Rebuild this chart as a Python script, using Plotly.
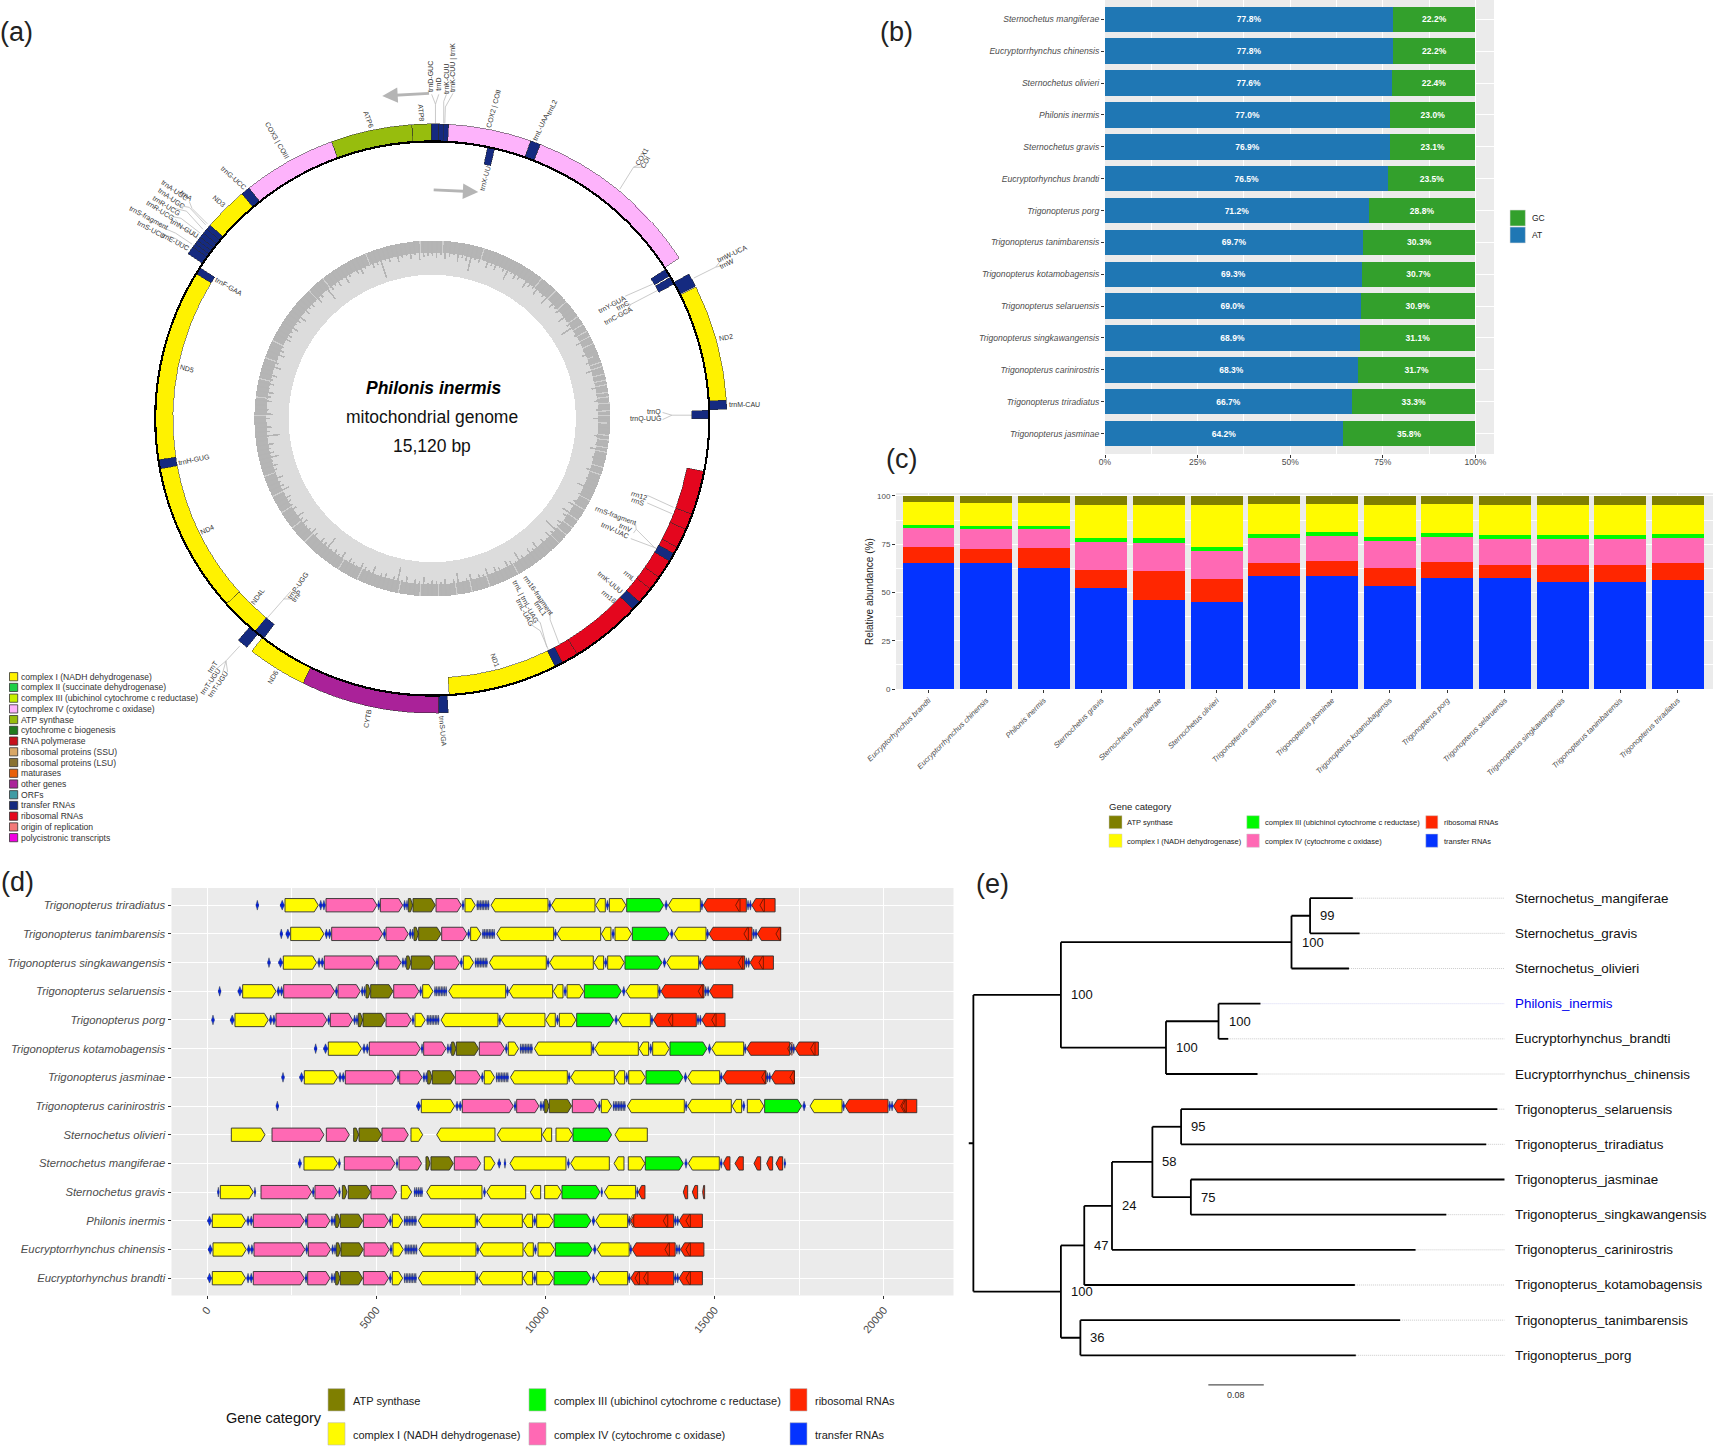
import plotly.graph_objects as go

W, H = 1713, 1447
FONT = "Liberation Sans"
GREY = "#4d4d4d"
BG = "#ebebeb"

def dom_x(a, b):
    return [a / W, b / W]

def dom_y(top, bot):
    return [1 - bot / H, 1 - top / H]

# ---------- panel (a) data ----------
# (name, start angle, end angle, ring, category)
MAP_GENES = [
    ("trnD", 359.8, 1.3, "o", "trna"), ("trnK1", 1.3, 2.2, "o", "trna"), ("trnK2", 2.2, 3.2, "o", "trna"),
    ("ATP8", 356.0, 359.8, "o", "atp"), ("ATP6", 340.0, 356.0, "o", "atp"),
    ("COX3", 321.5, 340.0, "o", "c4"), ("trnG", 319.7, 321.5, "o", "trna"), ("ND3", 311.0, 319.7, "o", "c1"),
    ("t1", 310.0, 311.0, "o", "trna"), ("t2", 309.0, 310.0, "o", "trna"), ("t3", 308.0, 309.0, "o", "trna"),
    ("t4", 307.2, 308.0, "o", "trna"), ("t5", 306.4, 307.2, "o", "trna"), ("t6", 305.6, 306.4, "o", "trna"),
    ("t7", 304.0, 305.6, "o", "trna"),
    ("trnF", 301.5, 303.0, "i", "trna"), ("ND5", 261.4, 301.5, "i", "c1"), ("trnH", 259.5, 261.4, "i", "trna"),
    ("ND4", 228.0, 259.5, "i", "c1"), ("ND4L", 219.9, 228.0, "i", "c1"),
    ("trnT", 219.0, 221.2, "o", "trna"), ("trnP", 217.5, 219.8, "i", "trna"),
    ("ND6", 206.0, 217.8, "o", "c1"), ("CYTB", 178.7, 206.0, "o", "other"), ("trnS", 176.9, 178.7, "o", "trna"),
    ("ND1", 153.6, 176.5, "i", "c1"), ("trnL", 151.9, 153.6, "i", "trna"),
    ("rrn16a", 148.4, 151.9, "i", "rrna"), ("rrn16b", 133.5, 148.4, "i", "rrna"), ("trnKu", 131.5, 133.5, "i", "trna"),
    ("rrnLa", 128.0, 131.5, "i", "rrna"), ("rrnLb", 125.0, 128.0, "i", "rrna"), ("rrnLc", 121.0, 125.0, "i", "rrna"),
    ("trnV", 119.2, 121.0, "i", "trna"), ("rrnSa", 117.7, 119.2, "i", "rrna"), ("rrnSb", 113.6, 117.7, "i", "rrna"),
    ("rrnSc", 110.2, 113.6, "i", "rrna"), ("rrnSd", 101.0, 110.2, "i", "rrna"),
    ("trnQ", 88.3, 90.0, "i", "trna"), ("trnM", 86.4, 88.2, "o", "trna"), ("ND2", 63.5, 86.4, "o", "c1"),
    ("trnW", 60.6, 63.3, "o", "trna"), ("trnC", 59.3, 60.9, "i", "trna"), ("trnY", 57.4, 59.0, "i", "trna"),
    ("COX1", 21.5, 57.0, "o", "c4"), ("trnL2", 19.5, 21.5, "o", "trna"), ("COX2", 3.2, 19.5, "o", "c4"),
    ("trnX", 11.5, 13.0, "i", "trna"),
]
MAP_COLORS = {"c1": "#fff200", "c4": "#fdb3fb", "atp": "#97bd0d", "other": "#aa2299", "trna": "#152a80", "rrna": "#e4061e"}
R_CIRCLE, R_OUT, R_IN = 277, 294.6, 259.4

# GC ring: length of the dark streaks, one per 1.5 degrees, read around the ring
GC_BAR_LEN = [
    15,17,14,18,16,13,19,15,17,26,14,16,12,18,15,17,13,16,22,14,17,15,12,19,16,14,18,13,15,20,12,17,14,16,11,19,13,15,24,12,
    14,10,17,8,13,16,6,15,11,18,4,13,9,16,7,12,15,5,14,10,17,3,12,8,15,6,13,18,9,14,5,11,16,7,13,10,19,8,14,12,
    15,18,13,20,16,12,17,14,25,15,18,13,16,11,19,14,17,12,15,21,13,16,18,12,15,17,13,19,14,16,11,18,15,13,22,16,12,17,14,15,
    16,13,19,15,17,12,18,14,26,16,13,17,15,12,20,14,16,18,13,15,17,12,19,14,16,13,24,15,17,12,16,18,14,13,17,15,19,12,16,14,
    15,17,13,19,16,14,18,12,15,17,13,20,16,14,18,12,25,15,17,13,16,19,14,12,17,15,18,13,16,14,17,12,19,15,13,18,16,14,12,17,
    16,14,18,13,15,19,12,17,14,16,13,18,15,12,24,16,14,17,13,19,15,12,16,18,14,13,17,15,30,14,16,12,18,15,13,17,14,19,16,15,
]
GC_BAR_WIDTH = 0.55
# Angles of the pale streaks that break up the dark band (mostly on the right of the ring)
GC_GAPS = [3.5, 9, 17, 24, 31.5, 38, 44, 49, 52.5, 55, 58, 60.5, 62.5, 65, 67.5, 69, 71.5, 73, 75.5, 77.5, 79, 81.5, 83, 85, 87.5, 89,
           91.5, 93, 95.5, 97, 99.5, 101, 103.5, 106, 108.5, 111, 114, 117.5, 121, 125, 128, 131, 134.5, 138, 142.5, 147, 151, 156,
           161, 167, 172, 178, 184, 191, 198, 205, 212, 219, 226, 232, 238, 244, 251, 258, 264, 271, 277, 283, 290, 296, 303, 309,
           316, 322, 330, 338, 345, 351, 356]
GC_OUTER, GC_BAND_INNER, GC_INNER = 178, 166, 143.7

MAP_LABELS = [
    ("trnD-GUC", 786, 140, -90), ("trnD", 800, 153, -90), ("trnK-CUU", 814, 143, -90), ("trnK-CUU | trnK", 827, 123, -90),
    ("ATP8", 767, 206, 85), ("ATP6", 672, 218, 70), ("COX3 | COIII", 505, 257, 60), ("trnG-UCC", 425, 324, 42), ("ND3", 400, 367, 40),
    ("trnA", 340, 356, 35), ("trnA-UGC", 319, 348, 35), ("trnA-UGC", 313, 362, 35), ("trnR-UCG", 303, 375, 32), ("trnR-UCG", 293, 383, 32),
    ("trnN-GUU", 337, 416, 30), ("trnS-fragment", 270, 398, 28), ("trnS-UCU", 276, 419, 28), ("trnE-UUC", 319, 441, 28),
    ("trnF-GAA", 417, 522, 30), ("ND5", 341, 671, 15), ("trnH-GUG", 354, 837, -12), ("ND4", 378, 965, -25), ("ND4L", 470, 1088, -55),
    ("trnP-UGG", 543, 1067, -55), ("trnP", 540, 1087, -55), ("trnT", 388, 1215, -55), ("trnT-UGU", 383, 1242, -55), ("trnT-UGU", 397, 1248, -55),
    ("ND6", 497, 1235, -60), ("CYTB", 670, 1310, -80), ("trnS-UGA", 808, 1333, 85), ("ND1", 903, 1204, 70),
    ("trnL | trnL-UAG", 958, 1097, 62), ("trnL-UAG", 957, 1117, 62), ("rrn16-fragment", 980, 1085, 55), ("trnL1", 985, 1110, 55),
    ("rrn16", 1110, 1087, 40), ("trnK-UUU", 1113, 1062, 40), ("rrnL", 1147, 1050, 40),
    ("trnV-UAC", 1122, 968, 25), ("trnV", 1140, 962, 25), ("rrnS-fragment", 1122, 940, 20), ("rrnS", 1163, 915, 18), ("rrn12", 1165, 903, 18),
    ("trnQ", 1193, 752, 0), ("trnQ-UUG", 1177, 764, 0), ("trnM-CAU", 1358, 737, 0), ("ND2", 1323, 615, -10),
    ("trnW-UCA", 1335, 462, -25), ("trnW", 1325, 480, -25), ("trnY-GUA", 1115, 555, -28), ("trnC", 1135, 557, -28), ("trnC-GCA", 1128, 576, -28),
    ("COX1", 1170, 285, -60), ("COI", 1176, 296, -60), ("trnL-UAA", 985, 232, -65), ("trnL2", 1006, 196, -65),
    ("COX2 | COII", 900, 198, -75), ("trnX-UU", 884, 325, -75),
]
MAP_LEADERS = [
    [(794,225),(794,190),(787,172)], [(794,190),(800,172)], [(809,225),(809,185),(814,172)], [(811,225),(812,195),(826,170)],
    [(1130,345),(1155,305),(1165,300)], [(1155,305),(1172,305)], [(1265,507),(1305,487),(1318,470)], [(1305,487),(1315,485)],
    [(1190,518),(1140,540)], [(1198,530),(1150,555),(1140,553)], [(1150,555),(1140,572)],
    [(1262,757),(1225,757),(1208,752)], [(1225,757),(1208,765)], [(1228,925),(1180,903)], [(1226,937),(1180,917)],
    [(1195,1000),(1160,965),(1158,950)], [(1160,965),(1155,972)], [(1198,1000),(1150,982)],
    [(480,1135),(517,1092),(530,1078)], [(517,1092),(535,1092)], [(437,1178),(412,1205),(392,1222)], [(412,1205),(405,1230)], [(412,1205),(415,1225)],
    [(1000,1185),(985,1150),(970,1140)], [(997,1180),(985,1135),(978,1130)], [(1020,1175),(1003,1130),(1003,1115)],
    [(378,408),(350,380),(345,367)], [(375,410),(345,378),(327,375)], [(370,418),(340,385),(310,378)], [(365,425),(330,398),(315,395)],
    [(360,435),(325,408),(320,400)], [(350,445),(320,425),(290,412)], [(345,452),(320,435),(300,428)],
]
LEGEND_A = [
    ("complex I (NADH dehydrogenase)", "#fff200"), ("complex II (succinate dehydrogenase)", "#1ecf47"),
    ("complex III (ubichinol cytochrome c reductase)", "#c6f000"), ("complex IV (cytochrome c oxidase)", "#fdb3fb"),
    ("ATP synthase", "#97bd0d"), ("cytochrome c biogenesis", "#217a1f"), ("RNA polymerase", "#c6101b"),
    ("ribosomal proteins (SSU)", "#d9a766"), ("ribosomal proteins (LSU)", "#8a7232"), ("maturases", "#e8600a"),
    ("other genes", "#aa2299"), ("ORFs", "#3f9ba4"), ("transfer RNAs", "#152a80"), ("ribosomal RNAs", "#e4061e"),
    ("origin of replication", "#f27979"), ("polycistronic transcripts", "#f000e0"),
]

# ---------- panel (b) data ----------
B_SPECIES = ["Sternochetus mangiferae", "Eucryptorrhynchus chinensis", "Sternochetus olivieri", "Philonis inermis",
             "Sternochetus gravis", "Eucryptorhynchus brandti", "Trigonopterus porg", "Trigonopterus tanimbarensis",
             "Trigonopterus kotamobagensis", "Trigonopterus selaruensis", "Trigonopterus singkawangensis",
             "Trigonopterus carinirostris", "Trigonopterus triradiatus", "Trigonopterus jasminae"]
B_AT = [77.8, 77.8, 77.6, 77.0, 76.9, 76.5, 71.2, 69.7, 69.3, 69.0, 68.9, 68.3, 66.7, 64.2]
B_GC = [22.2, 22.2, 22.4, 23.0, 23.1, 23.5, 28.8, 30.3, 30.7, 30.9, 31.1, 31.7, 33.3, 35.8]
B_TICKS = [0, 25, 50, 75, 100]
B_TICK_TEXT = ["0%", "25%", "50%", "75%", "100%"]

# ---------- panel (c) data ----------
C_SPECIES = ["Eucryptorhynchus brandti", "Eucryptorrhynchus chinensis", "Philonis inermis", "Sternochetus gravis",
             "Sternochetus mangiferae", "Sternochetus olivieri", "Trigonopterus carinirostris", "Trigonopterus jasminae",
             "Trigonopterus kotamobagensis", "Trigonopterus porg", "Trigonopterus selaruensis",
             "Trigonopterus singkawangensis", "Trigonopterus tanimbarensis", "Trigonopterus triradiatus"]
C_TRNA = [65.1, 65.5, 62.9, 52.5, 46.3, 45.2, 58.7, 58.4, 53.5, 57.3, 57.7, 55.6, 55.6, 56.5]
C_RRNA = [8.3, 6.9, 10.0, 9.3, 14.7, 11.8, 6.4, 8.1, 9.4, 8.5, 6.7, 8.8, 8.8, 8.6]
C_C4 = [9.8, 10.3, 10.0, 14.5, 14.6, 14.3, 13.3, 12.6, 14.0, 12.8, 13.3, 13.3, 13.3, 13.3]
C_C3 = [1.8, 1.8, 1.7, 2.1, 2.4, 2.3, 2.1, 2.2, 2.0, 2.2, 2.3, 2.3, 2.3, 2.1]
C_C1 = [11.7, 12.0, 11.9, 16.9, 17.2, 21.7, 15.2, 14.7, 16.4, 14.9, 15.5, 15.5, 15.5, 15.0]
C_ATP = [3.3, 3.5, 3.5, 4.7, 4.8, 4.7, 4.3, 4.0, 4.7, 4.3, 4.5, 4.5, 4.5, 4.5]
CAT_COLORS = {"atp": "#7f7f00", "c1": "#fffb00", "c3": "#00f900", "c4": "#ff69b4", "rrna": "#ff2600", "trna": "#0433ff"}
LEGEND_GENE = [("ATP synthase", "atp"), ("complex I (NADH dehydrogenase)", "c1"),
               ("complex III (ubichinol cytochrome c reductase)", "c3"), ("complex IV (cytochrome c oxidase)", "c4"),
               ("ribosomal RNAs", "rrna"), ("transfer RNAs", "trna")]

# ---------- panel (d) data ----------
D_ROWS = ["Trigonopterus triradiatus", "Trigonopterus tanimbarensis", "Trigonopterus singkawangensis", "Trigonopterus selaruensis",
          "Trigonopterus porg", "Trigonopterus kotamobagensis", "Trigonopterus jasminae", "Trigonopterus carinirostris",
          "Sternochetus olivieri", "Sternochetus mangiferae", "Sternochetus gravis", "Philonis inermis",
          "Eucryptorrhynchus chinensis", "Eucryptorhynchus brandti"]
# Shared arrangement as read on the Philonis inermis row: start, end, direction, category
ARR_GENES = [
    (157, 1142, 1, "c1"), (1369, 2876, 1, "c4"), (2975, 3635, 1, "c4"), (3802, 3930, 1, "atp"), (3940, 4600, 1, "atp"),
    (4620, 5368, 1, "c4"), (5476, 5782, 1, "c1"), (6245, 7929, -1, "c1"), (8028, 9318, -1, "c1"), (9338, 9623, -1, "c1"),
    (9742, 10234, 1, "c1"), (10254, 11347, 1, "c3"), (11485, 12431, -1, "c1"), (12519, 13790, -1, "rrna"), (13950, 14640, -1, "rrna"),
]
ARR_TRNA = [(15, 135), (1172, 1255), (1265, 1350), (2895, 2960), (3660, 3725), (3735, 3790), (5385, 5450),
            (5821, 5861), (5868, 5908), (5915, 5955), (5962, 6002), (6009, 6049), (6056, 6096), (6103, 6143), (6150, 6190),
            (7950, 8015), (9650, 9720), (11380, 11460), (12445, 12510), (13810, 13870), (13880, 13940)]
# Row shifts: early genes, ND6-CYTB, ND1 onward
ROW_SHIFT = {
    "Trigonopterus triradiatus": (2148, 2148, 2148), "Trigonopterus tanimbarensis": (2315, 2315, 2315),
    "Trigonopterus singkawangensis": (2098, 2098, 2098), "Trigonopterus selaruensis": (897, 897, 897),
    "Trigonopterus porg": (670, 670, 670), "Trigonopterus kotamobagensis": (3428, 3428, 3428),
    "Trigonopterus jasminae": (2719, 2719, 2719), "Trigonopterus carinirostris": (6176, 6225, 6335),
    "Philonis inermis": (0, 0, 0), "Eucryptorrhynchus chinensis": (20, 40, 45), "Eucryptorhynchus brandti": (0, 0, 0),
}
LEAD_TRNA = {"Trigonopterus triradiatus": 1487, "Trigonopterus tanimbarensis": 2196, "Trigonopterus singkawangensis": 1832,
             "Trigonopterus selaruensis": 374, "Trigonopterus porg": 177, "Trigonopterus kotamobagensis": 3211,
             "Trigonopterus jasminae": 2246, "Trigonopterus carinirostris": 2078}
OLIVIERI_GENES = [(719, 1714, 1, "c1"), (1921, 3457, 1, "c4"), (3526, 4206, 1, "c4"), (4334, 4482, 1, "atp"), (4492, 5161, 1, "atp"),
                  (5171, 5949, 1, "c4"), (6028, 6373, 1, "c1"), (6787, 8510, -1, "c1"), (8579, 9889, -1, "c1"), (9909, 10185, -1, "c1"),
                  (10313, 10806, 1, "c1"), (10816, 11958, 1, "c3"), (12056, 13012, -1, "c1")]
MANGIFERAE_GENES = [(2866, 3861, 1, "c1"), (4058, 5555, 1, "c4"), (5674, 6343, 1, "c4"), (6471, 6590, 1, "atp"), (6619, 7279, 1, "atp"),
                    (7309, 8087, 1, "c4"), (8195, 8510, 1, "c1"), (8954, 10608, -1, "c1"), (10746, 11889, -1, "c1"), (12027, 12322, -1, "c1"),
                    (12450, 12943, 1, "c1"), (12953, 14075, 1, "c3"), (14223, 15139, -1, "c1"), (15258, 15454, -1, "rrna"),
                    (15602, 15849, -1, "rrna"), (16164, 16361, -1, "rrna"), (16538, 16715, -1, "rrna"), (16814, 17011, -1, "rrna")]
MANGIFERAE_TRNA = [(2695, 2790), (3880, 3940), (5590, 5640), (8590, 8680), (8780, 8830), (10650, 10710), (14120, 14190), (15165, 15225), (17050, 17100)]
GRAVIS_GENES = [(394, 1369, 1, "c1"), (1596, 3093, 1, "c4"), (3191, 3861, 1, "c4"), (4000, 4140, 1, "atp"), (4176, 4836, 1, "atp"),
                (4846, 5604, 1, "c4"), (5742, 6048, 1, "c1"), (6491, 8126, -1, "c1"), (8264, 9417, -1, "c1"), (9554, 9860, -1, "c1"),
                (9978, 10480, 1, "c1"), (10490, 11613, 1, "c3"), (11741, 12667, -1, "c1"), (12746, 12943, -1, "rrna"),
                (14075, 14204, -1, "rrna"), (14341, 14499, -1, "rrna"), (14647, 14706, -1, "rrna")]
GRAVIS_TRNA = [(310, 360), (1395, 1440), (3110, 3170), (3885, 3940), (6117, 6165), (6170, 6218), (6223, 6271), (6276, 6324), (6329, 6373),
               (8170, 8230), (11640, 11690), (12695, 12740)]
RRNA_MARKS = {
    "Trigonopterus triradiatus": [15622, 16341], "Trigonopterus tanimbarensis": [15868, 16814],
    "Trigonopterus singkawangensis": [15701, 16311], "Trigonopterus selaruensis": [14519],
    "Trigonopterus porg": [13632, 14913], "Trigonopterus kotamobagensis": [17159, 17838],
    "Trigonopterus jasminae": [16390, 17228], "Trigonopterus carinirostris": [20498, 20540],
    "Philonis inermis": [12480, 13485, 14154], "Eucryptorrhynchus chinensis": [13534, 14154],
    "Eucryptorhynchus brandti": [12650, 12900, 14154],
}
D_X_TICKS = [0, 5000, 10000, 15000, 20000]
D_X_TEXT = ["0", "5000", "10000", "15000", "20000"]

# ---------- panel (e) data ----------
TREE_TIPS = ["Sternochetus_mangiferae", "Sternochetus_gravis", "Sternochetus_olivieri", "Philonis_inermis",
             "Eucryptorhynchus_brandti", "Eucryptorrhynchus_chinensis", "Trigonopterus_selaruensis", "Trigonopterus_triradiatus",
             "Trigonopterus_jasminae", "Trigonopterus_singkawangensis", "Trigonopterus_carinirostris",
             "Trigonopterus_kotamobagensis", "Trigonopterus_tanimbarensis", "Trigonopterus_porg"]
TIP_DEPTH = [0.5474, 0.5573, 0.5419, 0.4142, 0.3677, 0.4100, 0.7560, 0.7399, 0.7666, 0.6823, 0.6380, 0.5504, 0.6157, 0.5518]
NODE_DEPTH = {"root": 0.0, "A": 0.1263, "B": 0.4590, "C": 0.4858, "D": 0.2779, "E": 0.3537, "F": 0.1263, "G": 0.1600,
              "H": 0.2000, "I": 0.2583, "J": 0.2997, "K": 0.3138, "L": 0.1544}
NODE_KIDS = {"root": ["A", "F"], "A": ["B", "D"], "B": ["C", 2], "C": [0, 1], "D": ["E", 5], "E": [3, 4], "F": ["G", "L"],
             "G": ["H", 11], "H": ["I", 10], "I": ["J", "K"], "J": [6, 7], "K": [8, 9], "L": [12, 13]}
NODE_SUPPORT = {"C": 99, "B": 100, "A": 100, "E": 100, "D": 100, "J": 95, "I": 58, "K": 75, "H": 24, "G": 47, "F": 100, "L": 36}
SCALE_LEN = 0.08

# ---------- figure ----------
fig = go.Figure()
shapes, annos = [], []

def txt(text, x, y, size, color="#222222", xref="paper", yref="paper", xanchor="center", angle=0, **kw):
    annos.append(dict(text=text, x=x, y=y, xref=xref, yref=yref, showarrow=False, xanchor=xanchor, yanchor="middle",
                      textangle=angle, borderpad=0, font=dict(size=size, color=color, family=FONT), **kw))

def ptxt(text, x, y, size, **kw):
    txt(text, x / W, 1 - y / H, size, **kw)

def swatch(x0, x1, y0, y1, color, line="#444444", lw=0.6):
    shapes.append(dict(type="rect", xref="paper", yref="paper", x0=x0 / W, x1=x1 / W, y0=1 - y1 / H, y1=1 - y0 / H,
                       fillcolor=color, line=dict(color=line, width=lw), layer="above"))

def panel_bg(x0, x1, y0, y1):
    shapes.append(dict(type="rect", xref="paper", yref="paper", x0=x0 / W, x1=x1 / W, y0=1 - y1 / H, y1=1 - y0 / H,
                       fillcolor=BG, line=dict(width=0), layer="below"))

# Panel (a): ring drawn on a polar subplot
CX, CY, RMAX = 432.3, 418.5, 300
polar_dom = dict(x=dom_x(CX - RMAX, CX + RMAX), y=dom_y(CY - RMAX, CY + RMAX))

def ring(theta, width, base, r, color, line=None, lw=0):
    fig.add_trace(go.Barpolar(theta=theta, width=width, base=base, r=r, marker=dict(color=color, line=dict(color=line or color, width=lw)),
                              subplot="polar", hoverinfo="skip", showlegend=False))

ring([90, 270], [180, 180], [GC_INNER] * 2, [GC_OUTER - GC_INNER] * 2, "#dcdcdc")
ring([90, 270], [180, 180], [GC_BAND_INNER] * 2, [GC_OUTER - GC_BAND_INNER] * 2, "#b5b5b5")
ring(GC_GAPS, [0.4] * len(GC_GAPS), [GC_BAND_INNER] * len(GC_GAPS), [GC_OUTER - GC_BAND_INNER] * len(GC_GAPS), "#cfcfcf")
gc_theta = [i * 1.5 for i in range(len(GC_BAR_LEN))]
ring(gc_theta, [GC_BAR_WIDTH] * len(gc_theta), [GC_OUTER - v for v in GC_BAR_LEN], GC_BAR_LEN, "#b4b4b4")
for g_name, a0, a1, side, cat in MAP_GENES:
    span = (a1 - a0) % 360
    base = R_CIRCLE if side == "o" else R_IN
    length = (R_OUT - R_CIRCLE) if side == "o" else (R_CIRCLE - R_IN)
    ring([(a0 + span / 2) % 360], [span], [base], [length], MAP_COLORS[cat], "#2b2b2b", 0.5)
ring([90, 270], [180, 180], [R_CIRCLE - 1] * 2, [2.2] * 2, "#000000")

# overlay for the map's leaders and labels, in the same coordinates as the map panel
lx, ly = [], []
for path in MAP_LEADERS:
    for px_, py_ in path:
        lx.append(px_)
        ly.append(py_)
    lx.append(None)
    ly.append(None)
fig.add_trace(go.Scatter(x=lx, y=ly, mode="lines", line=dict(color="#bdbdbd", width=0.8), xaxis="x", yaxis="y",
                         hoverinfo="skip", showlegend=False))
for t, x, y, ang in MAP_LABELS:
    txt(t, x, y, 7, color="#333333", xref="x", yref="y", angle=ang)
txt("<b><i>Philonis inermis</i></b>", 790, 708, 17.5, color="#000000", xref="x", yref="y")
txt("mitochondrial genome", 788, 760, 17.5, color="#111111", xref="x", yref="y")
txt("15,120 bp", 788, 813, 17.5, color="#111111", xref="x", yref="y")
for tip_x, tip_y, tail_x, tail_y in [(697, 175, 785, 170), (872, 350, 788, 346)]:
    annos.append(dict(x=tip_x, y=tip_y, ax=tail_x, ay=tail_y, xref="x", yref="y", axref="x", ayref="y", text="", showarrow=True,
                      arrowhead=2, arrowsize=1.1, arrowwidth=2.8, arrowcolor="#b5b5b5"))
for i, (label, col) in enumerate(LEGEND_A):
    yc = 676.7 + i * 10.73
    swatch(9.5, 17.7, yc - 4.1, yc + 4.1, col, "#333333", 0.8)
    ptxt(label, 19.7, yc, 8.6, color="#333333", xanchor="left")

# Panel (b)
panel_bg(1105, 1494, 0, 454)
common_b = dict(orientation="h", width=0.8, xaxis="x2", yaxis="y2", hoverinfo="skip", showlegend=False, textposition="inside",
                insidetextanchor="middle", textangle=0, insidetextfont=dict(color="white", size=8.5, family=FONT), constraintext="none")
fig.add_trace(go.Bar(y=B_SPECIES, x=B_AT, marker=dict(color="#1f77b4", line=dict(width=0)), text=[f"<b>{v:.1f}%</b>" for v in B_AT], **common_b))
fig.add_trace(go.Bar(y=B_SPECIES, x=B_GC, marker=dict(color="#33a02c", line=dict(width=0)), text=[f"<b>{v:.1f}%</b>" for v in B_GC], **common_b))
swatch(1510, 1525.4, 210, 226, "#33a02c", "#dddddd")
swatch(1510, 1525.4, 227, 243, "#1f77b4", "#dddddd")
ptxt("GC", 1531, 218, 8.5, color="#222222", xanchor="left")
ptxt("AT", 1531, 235, 8.5, color="#222222", xanchor="left")

# Panel (c)
panel_bg(896, 1713, 493, 689)
for vals, cat in [(C_TRNA, "trna"), (C_RRNA, "rrna"), (C_C4, "c4"), (C_C3, "c3"), (C_C1, "c1"), (C_ATP, "atp")]:
    fig.add_trace(go.Bar(x=C_SPECIES, y=vals, width=0.9, marker=dict(color=CAT_COLORS[cat], line=dict(width=0)), xaxis="x3", yaxis="y3",
                         hoverinfo="skip", showlegend=False))
ptxt("Relative abundance (%)", 869, 592, 10, color="#222222", angle=-90)
ptxt("Gene category", 1108, 806.7, 9.5, color="#222222", xanchor="left")
c_legend_pos = [(1109, 1122, 815.7, 828.7, 1126, 822.7), (1109, 1122, 834, 847.3, 1126, 841.3),
                (1246.8, 1259.3, 815.7, 828.7, 1263.5, 822.7), (1246.8, 1259.3, 834, 847.3, 1263.5, 841.3),
                (1425.8, 1437.8, 815.7, 828.7, 1442.5, 822.7), (1425.8, 1437.8, 834, 847.3, 1442.5, 841.3)]
for (label, cat), (x0, x1, y0, y1, tx, ty) in zip(LEGEND_GENE, c_legend_pos):
    swatch(x0, x1, y0, y1, CAT_COLORS[cat], "#cccccc", 0.5)
    ptxt(label, tx, ty, 7.5, color="#222222", xanchor="left")

# Panel (d)
panel_bg(171.5, 953.5, 888, 1295.4)
H_GENE, H_TRNA, HEAD = 0.232, 0.17, 120
poly = {k: ([], []) for k in CAT_COLORS}
core_x, core_y = [], []

def add_arrow(cat, s, e, direction, row, half, head):
    head = min(head, (e - s) * 0.5)
    xs, ys = poly[cat]
    if direction >= 0:
        pts = [(s, row - half), (e - head, row - half), (e, row), (e - head, row + half), (s, row + half), (s, row - half)]
    else:
        pts = [(e, row - half), (s + head, row - half), (s, row), (s + head, row + half), (e, row + half), (e, row - half)]
    xs.extend(p[0] for p in pts)
    ys.extend(p[1] for p in pts)
    xs.append(None)
    ys.append(None)

def add_trna(s, e, row):
    mid = (s + e) / 2
    xs, ys = poly["trna"]
    xs.extend([s, mid, e, mid, s, None])
    ys.extend([row, row - H_TRNA, row, row + H_TRNA, row, None])
    core_x.extend([s, e, None])
    core_y.extend([row, row, None])

for row, name in enumerate(D_ROWS):
    if name in ROW_SHIFT:
        early, mid_shift, tail = ROW_SHIFT[name]
        def sh(v):
            return early if v < 9700 else (mid_shift if v < 11470 else tail)
        for s, e, d, cat in ARR_GENES:
            add_arrow(cat, s + sh(s), e + sh(s), d, row, H_GENE, HEAD)
        for s, e in ARR_TRNA:
            add_trna(s + sh(s), e + sh(s), row)
        if name in LEAD_TRNA:
            add_trna(LEAD_TRNA[name] - 40, LEAD_TRNA[name] + 40, row)
    else:
        genes, trnas = {"Sternochetus olivieri": (OLIVIERI_GENES, []), "Sternochetus mangiferae": (MANGIFERAE_GENES, MANGIFERAE_TRNA),
                        "Sternochetus gravis": (GRAVIS_GENES, GRAVIS_TRNA)}[name]
        for s, e, d, cat in genes:
            add_arrow(cat, s, e, d, row, H_GENE, HEAD)
        for s, e in trnas:
            add_trna(s, e, row)
for cat in ["trna", "atp", "c1", "c3", "c4", "rrna"]:
    xs, ys = poly[cat]
    fig.add_trace(go.Scatter(x=xs, y=ys, mode="lines", fill="toself", fillcolor=CAT_COLORS[cat],
                             line=dict(color="#2e2e2e", width=0.45 if cat == "trna" else 0.9),
                             xaxis="x4", yaxis="y4", hoverinfo="skip", showlegend=False))
fig.add_trace(go.Scatter(x=core_x, y=core_y, mode="lines", line=dict(color="#0a22c8", width=2.6), xaxis="x4", yaxis="y4",
                         hoverinfo="skip", showlegend=False))
mx, my = [], []
for name, marks in RRNA_MARKS.items():
    row = D_ROWS.index(name)
    for m in marks:
        mx.extend([m + 110, m, m + 110, None, m + 130, m + 130, None])
        my.extend([row - H_GENE, row, row + H_GENE, None, row - H_GENE, row + H_GENE, None])
fig.add_trace(go.Scatter(x=mx, y=my, mode="lines", line=dict(color="#5c1500", width=0.8), xaxis="x4", yaxis="y4", hoverinfo="skip", showlegend=False))
ptxt("Gene category", 274, 1418, 14.5, color="#111111")
d_legend_pos = [(328, 345, 1388.6, 1411, 352, 1400.6), (328, 345, 1422.7, 1445, 352, 1434.7),
                (529, 546, 1388.6, 1411, 553, 1400.6), (529, 546, 1422.7, 1445, 553, 1434.7),
                (790, 807, 1388.6, 1411, 814, 1400.6), (790, 807, 1422.7, 1445, 814, 1434.7)]
for (label, cat), (x0, x1, y0, y1, tx, ty) in zip(LEGEND_GENE, d_legend_pos):
    swatch(x0, x1, y0, y1, CAT_COLORS[cat], "#bbbbbb", 0.6)
    ptxt(label, tx, ty, 11, color="#222222", xanchor="left")

# Panel (e)
node_y = {}

def y_of(node):
    if isinstance(node, int):
        return float(node)
    if node not in node_y:
        kids = NODE_KIDS[node]
        node_y[node] = (y_of(kids[0]) + y_of(kids[1])) / 2
    return node_y[node]

def depth_of(node):
    return TIP_DEPTH[node] if isinstance(node, int) else NODE_DEPTH[node]

tx_, ty_ = [], []
for node, kids in NODE_KIDS.items():
    d = NODE_DEPTH[node]
    tx_.extend([d, d, None])
    ty_.extend([y_of(kids[0]), y_of(kids[1]), None])
    for k in kids:
        tx_.extend([d, depth_of(k), None])
        ty_.extend([y_of(k), y_of(k), None])
tx_.extend([-0.007, 0.0, None])
ty_.extend([y_of("root"), y_of("root"), None])
dot_end = max(TIP_DEPTH)
for i, (tip, d) in enumerate(zip(TREE_TIPS, TIP_DEPTH)):
    col = "#c4c4ee" if tip == "Philonis_inermis" else "#b5b5b5"
    fig.add_trace(go.Scatter(x=[d, dot_end], y=[i, i], mode="lines", line=dict(color=col, width=0.7, dash="1px,1px"), xaxis="x5", yaxis="y5",
                             hoverinfo="skip", showlegend=False))
    txt(tip, dot_end, i, 13.4, color="#0000ee" if tip == "Philonis_inermis" else "#111111", xref="x5", yref="y5", xanchor="left", xshift=9)
fig.add_trace(go.Scatter(x=tx_, y=ty_, mode="lines", line=dict(color="#000000", width=1.8), xaxis="x5", yaxis="y5", hoverinfo="skip", showlegend=False))
for node, val in NODE_SUPPORT.items():
    txt(str(val), NODE_DEPTH[node], y_of(node), 13, color="#111111", xref="x5", yref="y5", xanchor="left", xshift=9)
scale_x0 = 0.339
fig.add_trace(go.Scatter(x=[scale_x0, scale_x0 + SCALE_LEN], y=[13.84, 13.84], mode="lines", line=dict(color="#555555", width=1.2),
                         xaxis="x5", yaxis="y5", hoverinfo="skip", showlegend=False))
txt("0.08", scale_x0 + SCALE_LEN / 2, 14.14, 9, color="#333333", xref="x5", yref="y5")

# Panel letters
for letter, x, y in [("(a)", 16, 32), ("(b)", 896, 32), ("(c)", 902, 459), ("(d)", 17, 882), ("(e)", 992, 884)]:
    ptxt(letter, x, y, 27, color="#222222")

hidden = dict(visible=False, showgrid=False, zeroline=False, automargin=False)
tick_common = dict(ticks="outside", ticklen=3, tickwidth=1, tickcolor="#333333", showline=False, zeroline=False, gridcolor="#ffffff",
                   showgrid=True, automargin=False)

fig.update_layout(
    template="none",
    width=W, height=H, margin=dict(l=0, r=0, t=0, b=0, pad=0), autosize=False, paper_bgcolor="#ffffff", plot_bgcolor="rgba(0,0,0,0)",
    font=dict(family=FONT), barmode="stack", showlegend=False, shapes=shapes, annotations=annos,
    polar=dict(domain=polar_dom, bgcolor="rgba(0,0,0,0)", barmode="overlay", bargap=0,
               radialaxis=dict(visible=False, range=[0, RMAX]),
               angularaxis=dict(visible=False, rotation=90, direction="clockwise", thetaunit="degrees")),
    xaxis=dict(domain=dom_x(0, 860), range=[0, 1568], **hidden),
    yaxis=dict(domain=dom_y(0, 860), range=[1568, 0], **hidden),
    xaxis2=dict(domain=dom_x(1105, 1494), range=[0, 105], anchor="y2", tickmode="array", tickvals=B_TICKS, ticktext=B_TICK_TEXT, ticklabelstandoff=-3,
                tickfont=dict(size=8.5, color=GREY), minor=dict(tickvals=[12.5, 37.5, 62.5, 87.5], showgrid=True, gridcolor="#ffffff", gridwidth=0.5, ticks=""), gridwidth=1, **tick_common),
    yaxis2=dict(domain=dom_y(0, 454), range=[13.64, -0.605], anchor="x2", type="category", categoryorder="array", categoryarray=B_SPECIES,
                tickmode="array", tickvals=B_SPECIES, ticktext=[f"<i>{s}</i>" for s in B_SPECIES], tickfont=dict(size=8.6, color=GREY), gridwidth=1, **tick_common),
    xaxis3=dict(domain=dom_x(896, 1713), range=[-0.564, 13.61], anchor="y3", type="category", categoryorder="array", categoryarray=C_SPECIES,
                tickmode="array", tickvals=C_SPECIES, ticktext=[f"<i>{s}</i>" for s in C_SPECIES], tickangle=-45, tickfont=dict(size=7.6, color=GREY), gridwidth=1, **tick_common),
    yaxis3=dict(domain=dom_y(493, 689), range=[0, 101.55], anchor="x3", tickmode="array", tickvals=[0, 25, 50, 75, 100], ticktext=["0", "25", "50", "75", "100"], tickfont=dict(size=8, color=GREY),
                minor=dict(tickvals=[12.5, 37.5, 62.5, 87.5], showgrid=True, gridcolor="#ffffff", gridwidth=0.5, ticks=""), gridwidth=1, **tick_common),
    xaxis4=dict(domain=dom_x(171.5, 953.5), range=[-1049, 22060], anchor="y4", tickmode="array", tickvals=D_X_TICKS, ticktext=D_X_TEXT, tickangle=-50, tickfont=dict(size=11, color=GREY),
                minor=dict(tickvals=[2500, 7500, 12500, 17500], showgrid=True, gridcolor="#ffffff", gridwidth=0.6, ticks=""), gridwidth=1.3, **tick_common),
    yaxis4=dict(domain=dom_y(888, 1295.4), range=[13.6, -0.6], anchor="x4", tickmode="array", tickvals=list(range(14)),
                ticktext=[f"<i>{s}</i>" for s in D_ROWS], tickfont=dict(size=11.3, color=GREY), gridwidth=1.3, **tick_common),
    xaxis5=dict(domain=dom_x(968.5, 1504.7), range=[-0.00702, 0.7666], anchor="y5", **hidden),
    yaxis5=dict(domain=dom_y(860, 1421.6), range=[14.885, -1.086], anchor="x5", **hidden),
)

fig.write_html("out.html", config=dict(displayModeBar=False),
               post_script="document.body.style.margin='0';document.documentElement.style.overflow='hidden';")
